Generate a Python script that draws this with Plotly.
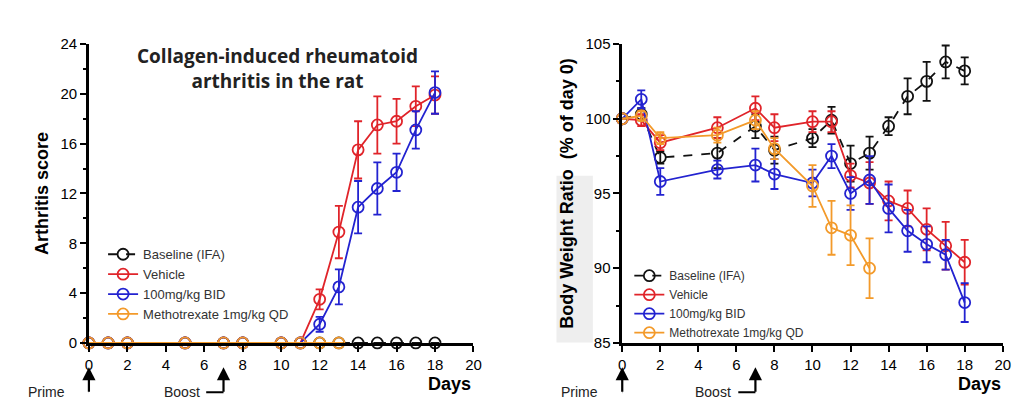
import plotly.graph_objects as go

days = [0, 1, 2, 5, 7, 8, 10, 11, 12, 13, 14, 15, 16, 17, 18]
series_names = ["Baseline (IFA)", "Vehicle", "100mg/kg BID", "Methotrexate 1mg/kg QD"]
colors = ["#111111", "#e0242a", "#2323d0", "#f39a2a"]
dashes = ["dash", "solid", "solid", "solid"]

# Arthritis score
as_baseline = [0]*15
as_baseline_err = [0]*15
as_vehicle = [0, 0, 0, 0, 0, 0, 0, 0, 3.5, 8.9, 15.5, 17.5, 17.8, 19.0, 19.9]
as_vehicle_err = [0, 0, 0, 0, 0, 0, 0, 0, 0.8, 2.1, 2.3, 2.3, 1.8, 1.6, 1.5]
as_bid = [0, 0, 0, 0, 0, 0, 0, 0, 1.5, 4.5, 10.9, 12.4, 13.7, 17.1, 20.1]
as_bid_err = [0, 0, 0, 0, 0, 0, 0, 0, 0.6, 1.4, 2.1, 2.1, 1.5, 1.5, 1.7]
mtx_days = [0, 1, 2, 5, 7, 8, 10, 11, 12, 13]
as_mtx = [0]*10
as_mtx_err = [0]*10

# Body weight ratio
bw_baseline = [100, 100.3, 97.4, 97.7, 99.5, 97.9, 98.7, 99.9, 97.0, 97.7, 99.5, 101.5, 102.5, 103.8, 103.2]
bw_baseline_err = [0, 0.4, 0.4, 1.0, 0.8, 0.9, 0.6, 0.9, 1.2, 1.1, 0.6, 1.2, 1.3, 1.1, 0.9]
bw_vehicle = [100, 99.9, 98.4, 99.4, 100.7, 99.4, 99.8, 99.8, 96.2, 95.7, 94.5, 94.0, 92.6, 91.5, 90.4]
bw_vehicle_err = [0, 0.4, 0.5, 0.7, 0.8, 0.9, 0.7, 0.7, 0.8, 1.4, 1.3, 1.2, 1.4, 1.6, 1.5]
bw_bid = [100, 101.3, 95.8, 96.6, 96.9, 96.3, 95.7, 97.5, 95.0, 95.9, 94.0, 92.5, 91.6, 90.9, 87.7]
bw_bid_err = [0, 0.6, 0.9, 0.6, 1.1, 1.0, 0.9, 0.8, 1.1, 1.6, 1.6, 1.4, 1.2, 1.0, 1.3]
bw_mtx = [100, 100.2, 98.7, 98.9, 99.9, 98.0, 95.5, 92.7, 92.2, 90.0]
bw_mtx_err = [0, 0.3, 0.4, 0.5, 0.6, 0.7, 1.4, 1.8, 2.0, 2.0]

fig = go.Figure()

def add(xs, ys, err, i, xa, ya, leg):
    fig.add_trace(go.Scatter(
        x=xs, y=ys, mode="lines+markers", name=series_names[i], legend=leg,
        line=dict(color=colors[i], width=1.8, dash=dashes[i]),
        marker=dict(symbol="circle-open", size=11, color=colors[i], line=dict(width=1.8)),
        error_y=dict(type="data", array=err, visible=True, color=colors[i], thickness=1.8, width=4),
        xaxis=xa, yaxis=ya, cliponaxis=False))

left = [(days, as_baseline, as_baseline_err, 0), (days, as_vehicle, as_vehicle_err, 1),
        (days, as_bid, as_bid_err, 2), (mtx_days, as_mtx, as_mtx_err, 3)]
for xs, ys, e, i in left:
    add(xs, ys, e, i, "x", "y", "legend")
right = [(days, bw_baseline, bw_baseline_err, 0), (days, bw_vehicle, bw_vehicle_err, 1),
         (days, bw_bid, bw_bid_err, 2), (mtx_days, bw_mtx, bw_mtx_err, 3)]
for xs, ys, e, i in right:
    add(xs, ys, e, i, "x2", "y2", "legend2")

tickfont = dict(family="Arial, Liberation Sans", size=15, color="black")
axcommon = dict(showgrid=False, zeroline=False, showline=True, linecolor="black", linewidth=2.5,
                ticks="outside", tickwidth=2, ticklen=6, tickcolor="black", tickfont=tickfont)
ydom = [0.179, 0.932]
fig.update_layout(
    width=1024, height=414, margin=dict(l=0, r=0, t=0, b=0),
    plot_bgcolor="white", paper_bgcolor="white",
    xaxis=dict(domain=[0.076, 0.456], range=[0, 20], tickvals=list(range(0, 21, 2)), anchor="y", **axcommon),
    yaxis=dict(domain=ydom, range=[0, 24], tickvals=list(range(0, 25, 4)), anchor="x",
               minor=dict(dtick=2, ticks="outside", ticklen=3, tickcolor="black"),
               title=dict(text="<b>Arthritis score</b>", font=dict(family="Arial, Liberation Sans", size=18, color="black"), standoff=8),
               **axcommon),
    xaxis2=dict(domain=[0.603, 0.979], range=[0, 20], tickvals=list(range(0, 21, 2)), anchor="y2", **axcommon),
    yaxis2=dict(domain=ydom, range=[85, 105], tickvals=[85, 90, 95, 100, 105], anchor="x2",
                minor=dict(dtick=2.5, ticks="outside", ticklen=3, tickcolor="black"),
                title=dict(text="<b>Body Weight Ratio  (% of day 0)</b>", font=dict(family="Arial, Liberation Sans", size=18, color="black"), standoff=8),
                **axcommon),
    legend=dict(x=0.09, y=0.44, xanchor="left", yanchor="top", bgcolor="rgba(0,0,0,0)",
                font=dict(family="Arial, Liberation Sans", size=13, color="#333"), tracegroupgap=0, itemwidth=30),
    legend2=dict(x=0.61, y=0.385, xanchor="left", yanchor="top", bgcolor="rgba(0,0,0,0)",
                 font=dict(family="Arial, Liberation Sans", size=12, color="#333"), tracegroupgap=0, itemwidth=30),
    showlegend=True,
)

ann = []
ann.append(dict(text="<b>Collagen-induced rheumatoid<br>arthritis in the rat</b>", x=0.262, y=0.94, xref="paper", yref="paper",
                xanchor="center", yanchor="top", showarrow=False,
                font=dict(family="Open Sans, Arial", size=19, color="#222")))
for xr, xp in [("x", 0.456), ("x2", 0.979)]:
    ann.append(dict(text="<b>Days</b>", x=xp, y=0.075, xref="paper", yref="paper", xanchor="right", yanchor="middle",
                    showarrow=False, font=dict(family="Arial", size=18, color="black")))
    for d, label in [(0, "Prime"), (7, "Boost")]:
        ann.append(dict(x=d, y=0.118, xref=xr, yref="paper", ax=0, ay=26, axref="pixel", ayref="pixel",
                        showarrow=True, arrowhead=2, arrowsize=1.2, arrowwidth=2.2, arrowcolor="black", text=""))
        ann.append(dict(text=label, x=d, y=0.055, xref=xr, yref="paper", xanchor="right", yanchor="middle",
                        xshift=-22, showarrow=False, font=dict(family="Arial", size=14, color="#222")))
fig.update_layout(annotations=ann)
shapes = []
for xr in ["x", "x2"]:
    for d in [0, 7]:
        shapes.append(dict(type="line", xref=xr, yref="paper", x0=d - 0.9, x1=d, y0=0.055, y1=0.055,
                           line=dict(color="black", width=2)))
shapes.append(dict(type="rect", xref="paper", yref="paper", x0=0.538, x1=0.574, y0=0.18, y1=0.6,
                   fillcolor="#eeeeee", line=dict(width=0), layer="below"))
fig.update_layout(shapes=shapes)

fig.write_html("out.html")
